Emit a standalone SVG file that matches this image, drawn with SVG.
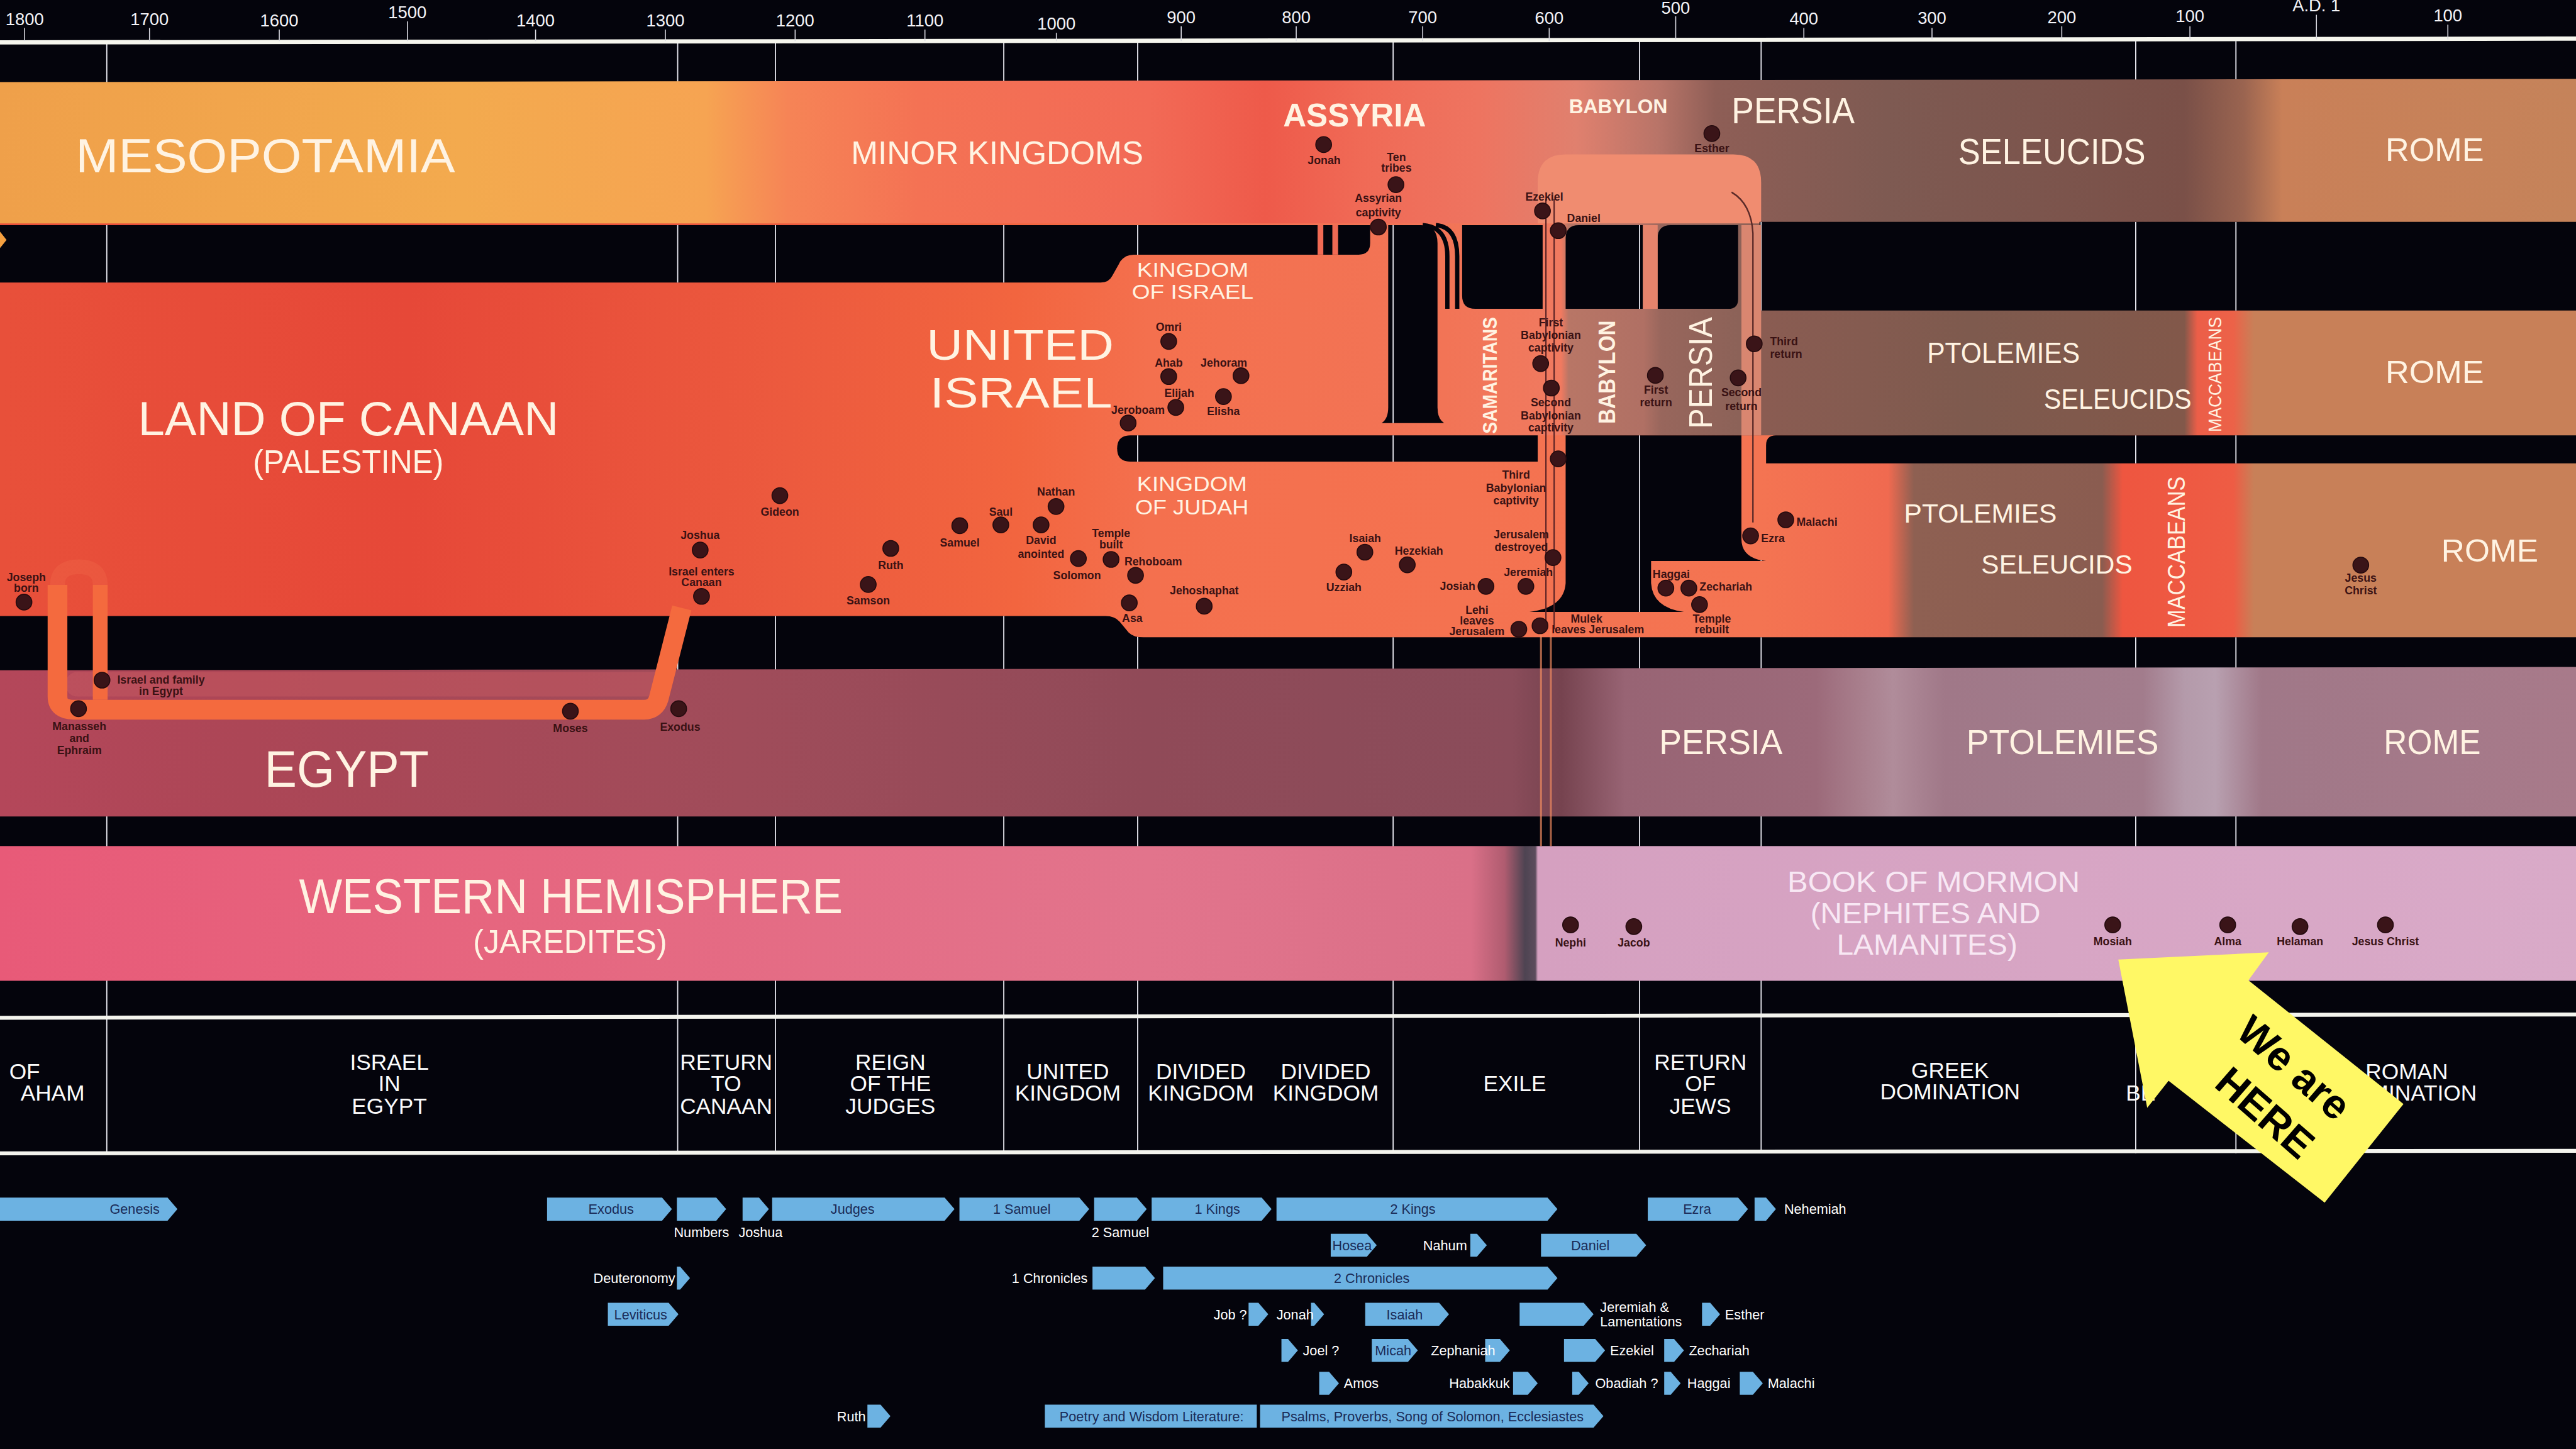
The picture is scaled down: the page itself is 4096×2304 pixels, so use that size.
<svg xmlns="http://www.w3.org/2000/svg" width="4096" height="2304" viewBox="0 0 4096 2304">
<defs>
<style>
.yr{font-family:"Liberation Sans",Arial,sans-serif;font-size:10.5px;fill:#f4f4f8;text-anchor:middle}
.t{font-family:"Liberation Sans",Arial,sans-serif;fill:#fff3e2}
.l{font-family:"Liberation Sans",Arial,sans-serif;font-size:6.8px;font-weight:bold;fill:#3a1214;text-anchor:middle}
.ls{text-anchor:start}
.le{text-anchor:end}
.d{fill:#3a1418;stroke:#240a0e;stroke-width:0.6}
.g{stroke:#e6e6ee;stroke-width:0.7;fill:none}
.p{font-family:"Liberation Sans",Arial,sans-serif;font-size:13.5px;fill:#fbfbfb;text-anchor:middle}
.bk{fill:#6cb2e2}
.bt{font-family:"Liberation Sans",Arial,sans-serif;font-size:8.3px;fill:#1b2c58;text-anchor:middle}
.bw{font-family:"Liberation Sans",Arial,sans-serif;font-size:8.3px;fill:#ffffff}
</style>
<linearGradient id="g1" gradientUnits="userSpaceOnUse" x1="0" y1="0" x2="1568" y2="0">
<stop offset="0" stop-color="#efa04a"/><stop offset="0.179" stop-color="#f3aa4e"/><stop offset="0.274" stop-color="#f6a452"/><stop offset="0.306" stop-color="#f68456"/><stop offset="0.357" stop-color="#f47254"/><stop offset="0.446" stop-color="#f26a56"/><stop offset="0.491" stop-color="#ee5a4a"/><stop offset="0.529" stop-color="#f06a56"/><stop offset="0.574" stop-color="#ee7460"/><stop offset="0.612" stop-color="#e0806e"/><stop offset="0.644" stop-color="#b87468"/><stop offset="0.666" stop-color="#8e5e56"/><stop offset="0.733" stop-color="#7e5a52"/><stop offset="0.848" stop-color="#7a5048"/><stop offset="0.871" stop-color="#9a6450"/><stop offset="0.886" stop-color="#c98058"/><stop offset="1" stop-color="#c5835a"/>
</linearGradient>
<linearGradient id="g2" gradientUnits="userSpaceOnUse" x1="0" y1="0" x2="1568" y2="0">
<stop offset="0" stop-color="#e8503a"/><stop offset="0.159" stop-color="#e64838"/><stop offset="0.306" stop-color="#ec5a3e"/><stop offset="0.395" stop-color="#f2653f"/><stop offset="0.446" stop-color="#f4704e"/><stop offset="0.561" stop-color="#f27456"/><stop offset="0.606" stop-color="#f07a60"/><stop offset="0.609" stop-color="#b87666"/><stop offset="0.638" stop-color="#b07064"/><stop offset="0.645" stop-color="#98665c"/><stop offset="0.675" stop-color="#8c6258"/><stop offset="0.684" stop-color="#8a5c52"/><stop offset="0.765" stop-color="#7e5a4e"/><stop offset="0.848" stop-color="#82584a"/><stop offset="0.853" stop-color="#ec5e48"/><stop offset="0.867" stop-color="#ec6248"/><stop offset="0.875" stop-color="#c88058"/><stop offset="1" stop-color="#c88058"/>
</linearGradient>
<linearGradient id="g3" gradientUnits="userSpaceOnUse" x1="0" y1="0" x2="1568" y2="0">
<stop offset="0" stop-color="#e8503a"/><stop offset="0.159" stop-color="#e64838"/><stop offset="0.306" stop-color="#ec5a3e"/><stop offset="0.395" stop-color="#f2653f"/><stop offset="0.446" stop-color="#f4704e"/><stop offset="0.684" stop-color="#f47452"/><stop offset="0.733" stop-color="#f06a50"/><stop offset="0.743" stop-color="#8e6052"/><stop offset="0.816" stop-color="#8a5c50"/><stop offset="0.824" stop-color="#ee5640"/><stop offset="0.867" stop-color="#ee5c44"/><stop offset="0.875" stop-color="#c88058"/><stop offset="1" stop-color="#c88058"/>
</linearGradient>
<linearGradient id="g4" gradientUnits="userSpaceOnUse" x1="0" y1="0" x2="1568" y2="0">
<stop offset="0" stop-color="#b4475a"/><stop offset="0.096" stop-color="#ac4656"/><stop offset="0.287" stop-color="#a04c5a"/><stop offset="0.446" stop-color="#904a58"/><stop offset="0.587" stop-color="#8a4c5a"/><stop offset="0.606" stop-color="#76434f"/><stop offset="0.631" stop-color="#986474"/><stop offset="0.705" stop-color="#9c6a7a"/><stop offset="0.722" stop-color="#a87e8c"/><stop offset="0.735" stop-color="#b08c9a"/><stop offset="0.755" stop-color="#a07888"/><stop offset="0.832" stop-color="#a27c8c"/><stop offset="0.848" stop-color="#b49aaa"/><stop offset="0.86" stop-color="#b8a0b0"/><stop offset="0.878" stop-color="#a07888"/><stop offset="1" stop-color="#a87a8a"/>
</linearGradient>
<linearGradient id="g5" gradientUnits="userSpaceOnUse" x1="0" y1="0" x2="1568" y2="0">
<stop offset="0" stop-color="#e85a78"/><stop offset="0.191" stop-color="#e6667f"/><stop offset="0.446" stop-color="#e2748c"/><stop offset="0.571" stop-color="#da7088"/><stop offset="0.584" stop-color="#b05c70"/><stop offset="0.592" stop-color="#4e4452"/><stop offset="0.596" stop-color="#5c4c5c"/><stop offset="0.597" stop-color="#d5a0c0"/><stop offset="1" stop-color="#d9aac8"/>
</linearGradient>
<path id="b1" d="M0 137 L834 137 L834 148 Q834 155 827 155 L690 155 Q685 155 682 159 L677 168 Q675 172 670 172 L0 172 Z"/>
<path id="b2" d="M845 137 L865 137 Q875 137 875 148 L875 248 Q875 255 879 257.5 L841 257.5 Q845 255 845 248 Z"/>
<path id="b4" d="M890 137 L939 137 L939 188 L898 188 Q890 188 890 180 Z"/>
<path id="b5" d="M953 145 Q953 137 961 137 L1000 137 L1000 188 L953 188 Z"/>
<path id="b6" d="M1009 145 Q1009 137 1017 137 L1058 137 L1058 182 Q1058 188 1052 188 L1009 188 Z"/>
<path id="b7" d="M1071 135 L1568 135 L1568 189 L1071 189 Z"/>
<path id="b8" d="M688 265 L936 265 L936 281 L688 281 Q680 281 680 273 Q680 265 688 265 Z"/>
<path id="b9" d="M953 265 L1060 265 L1060 328 Q1060 340 1075 341.5 L1005 341.5 L1005 355 Q1006 370 1025 372.5 L931 372.5 Q952 370 953 355 Z"/>
<path id="b10" d="M1081 265 L1568 265 L1568 282 L1075 282 L1075 271 Q1075 265 1081 265 Z"/>
<path id="b11" d="M0 375 L673 375 Q679 375 682 379 L687 385 Q690 388 696 388 L1568 388 L1568 408 L0 408 Z"/>
<clipPath id="blkclip">
<use href="#b1"/><use href="#b2"/><use href="#b4"/><use href="#b5"/><use href="#b6"/><use href="#b7"/><use href="#b8"/><use href="#b9"/><use href="#b10"/><use href="#b11"/>
</clipPath>
</defs>
<rect x="0" y="0" width="4096" height="2304" fill="#04040c"/>
<g transform="scale(2.612245)">
<g id="gridlines">
<path class="g" d="M65 25V702 M412.5 25V702 M472 25V702 M611 25V702 M692.5 25V702 M848 25V702 M998 25V702 M1072 25V702 M1300 25V702 M1361 25V702"/>
</g>
<g id="axis">
<line x1="0" y1="25.8" x2="1568" y2="23.5" stroke="#f6f6ee" stroke-width="2.6"/>
<path stroke="#dcdce4" stroke-width="0.6" d="M15 17V25 M91 17V25 M170 18V25 M248 13V25 M326 18V25 M405 18V25 M484 18V25 M563 18V25 M643 20V25 M719 16V25 M789 16V25 M866 16V25 M943 17V25 M1020 10V24 M1098 17V24 M1176 17V24 M1255 16V24 M1333 16V24 M1410 9V24 M1490 15V24"/>
<text class="yr" x="15" y="15.5">1800</text>
<text class="yr" x="91" y="15.5">1700</text>
<text class="yr" x="170" y="16">1600</text>
<text class="yr" x="248" y="11">1500</text>
<text class="yr" x="326" y="16">1400</text>
<text class="yr" x="405" y="16">1300</text>
<text class="yr" x="484" y="16">1200</text>
<text class="yr" x="563" y="16">1100</text>
<text class="yr" x="643" y="18">1000</text>
<text class="yr" x="719" y="14">900</text>
<text class="yr" x="789" y="14">800</text>
<text class="yr" x="866" y="14">700</text>
<text class="yr" x="943" y="14.5">600</text>
<text class="yr" x="1020" y="8.5">500</text>
<text class="yr" x="1098" y="15">400</text>
<text class="yr" x="1176" y="14.5">300</text>
<text class="yr" x="1255" y="14">200</text>
<text class="yr" x="1333" y="13.5">100</text>
<text class="yr" x="1410" y="7">A.D. 1</text>
<text class="yr" x="1490" y="13">100</text>
</g>
<g id="bands">
<polygon points="0,50 1568,48 1568,136 0,137" fill="url(#g1)"/>
<path d="M936 138 L936 111 Q936 94 953 94 L1055 94 Q1072 94 1072 111 L1072 138 Z" fill="#f08c70"/>
<rect x="0" y="136" width="1568" height="129.5" fill="url(#g2)"/>
<rect x="0" y="265" width="1568" height="123" fill="url(#g3)"/>
<g fill="#04040c">
<use href="#b1"/><use href="#b2"/><use href="#b4"/><use href="#b5"/><use href="#b6"/><use href="#b7"/><use href="#b8"/><use href="#b9"/><use href="#b10"/><use href="#b11"/>
</g>
<path class="g" clip-path="url(#blkclip)" d="M65 25V702 M412.5 25V702 M472 25V702 M611 25V702 M692.5 25V702 M848 25V702 M998 25V702 M1072 25V702 M1300 25V702 M1361 25V702"/>
<rect x="802" y="137" width="3.5" height="18" fill="#f06a54"/>
<rect x="811" y="137" width="3.5" height="18" fill="#f06a54"/>
<rect x="1000" y="137" width="9" height="51" fill="#e6846c"/>
<rect x="1060" y="137" width="12" height="128" fill="#d98670"/>
<path d="M866 137 Q881 138 881 156 L881 188 M874 137 Q887 138 887 156 L887 188" fill="none" stroke="#04040c" stroke-width="2.6"/>
<path d="M941 121 V383 M946 121 V383" fill="none" stroke="#5a2224" stroke-width="0.8"/>
<path d="M1054 117 Q1066 124 1067 142 L1067 318" fill="none" stroke="#5a2a28" stroke-width="0.9"/>
<polygon points="0,141 4,146 0,151" fill="#f5a040"/>
<polygon points="0,408 1568,406 1568,497 0,497" fill="url(#g4)"/>
<rect x="0" y="515" width="1568" height="82" fill="url(#g5)"/>
<path d="M938 383 V515 M944 383 V515" fill="none" stroke="#f08a60" stroke-width="1.2" opacity="0.7"/>
<rect x="40" y="409" width="365" height="15" rx="7" fill="#c85a62" opacity="0.45"/>
<path d="M35 356 Q35 345 48 345 Q61 345 61 356" fill="none" stroke="#f47a52" stroke-width="9" opacity="0.22"/>
<path d="M35 356 L35 424 Q35 432 45 432 L392 432 Q399 432 401 425 L415 370" fill="none" stroke="#f46a3e" stroke-width="12" stroke-linejoin="round"/>
<path d="M61 356 L61 426" fill="none" stroke="#f46a3e" stroke-width="9"/>
</g>
<g id="titles" class="t">
<text x="46" y="105" font-size="29" textLength="231" lengthAdjust="spacingAndGlyphs">MESOPOTAMIA</text>
<text x="518" y="100" font-size="20" textLength="178" lengthAdjust="spacingAndGlyphs">MINOR KINGDOMS</text>
<text x="781" y="77" font-size="20" font-weight="bold" textLength="87" lengthAdjust="spacingAndGlyphs">ASSYRIA</text>
<text x="955" y="69" font-size="12" font-weight="bold" textLength="60" lengthAdjust="spacingAndGlyphs">BABYLON</text>
<text x="1054" y="75" font-size="22" textLength="75" lengthAdjust="spacingAndGlyphs">PERSIA</text>
<text x="1192" y="100" font-size="22" textLength="114" lengthAdjust="spacingAndGlyphs">SELEUCIDS</text>
<text x="1452" y="98" font-size="20" textLength="60" lengthAdjust="spacingAndGlyphs">ROME</text>
<text x="692" y="168.5" font-size="12" textLength="68" lengthAdjust="spacingAndGlyphs">KINGDOM</text>
<text x="689" y="182" font-size="12" textLength="74" lengthAdjust="spacingAndGlyphs">OF ISRAEL</text>
<text x="564" y="219" font-size="26" textLength="114" lengthAdjust="spacingAndGlyphs">UNITED</text>
<text x="566" y="248" font-size="26" textLength="111" lengthAdjust="spacingAndGlyphs">ISRAEL</text>
<text x="84" y="265" font-size="29" textLength="256" lengthAdjust="spacingAndGlyphs">LAND OF CANAAN</text>
<text x="154" y="288" font-size="20" textLength="116" lengthAdjust="spacingAndGlyphs">(PALESTINE)</text>
<text x="692" y="299" font-size="13" textLength="67" lengthAdjust="spacingAndGlyphs">KINGDOM</text>
<text x="691" y="313" font-size="13" textLength="69" lengthAdjust="spacingAndGlyphs">OF JUDAH</text>
<text transform="translate(911,264) rotate(-90)" font-size="12" font-weight="bold" textLength="71" lengthAdjust="spacingAndGlyphs">SAMARITANS</text>
<text transform="translate(983,258) rotate(-90)" font-size="14" font-weight="bold" textLength="63" lengthAdjust="spacingAndGlyphs">BABYLON</text>
<text transform="translate(1042,261) rotate(-90)" font-size="20" textLength="68" lengthAdjust="spacingAndGlyphs">PERSIA</text>
<text x="1173" y="221" font-size="18" textLength="93" lengthAdjust="spacingAndGlyphs">PTOLEMIES</text>
<text x="1244" y="249" font-size="17" textLength="90" lengthAdjust="spacingAndGlyphs">SELEUCIDS</text>
<text x="1452" y="233" font-size="19" textLength="60" lengthAdjust="spacingAndGlyphs">ROME</text>
<text transform="translate(1352,263) rotate(-90)" font-size="11" textLength="70" lengthAdjust="spacingAndGlyphs">MACCABEANS</text>
<text x="1159" y="318" font-size="16" textLength="93" lengthAdjust="spacingAndGlyphs">PTOLEMIES</text>
<text x="1206" y="349" font-size="16" textLength="92" lengthAdjust="spacingAndGlyphs">SELEUCIDS</text>
<text transform="translate(1330,382) rotate(-90)" font-size="15" textLength="92" lengthAdjust="spacingAndGlyphs">MACCABEANS</text>
<text x="1486" y="342" font-size="19" textLength="59" lengthAdjust="spacingAndGlyphs">ROME</text>
<text x="161" y="479" font-size="31" textLength="100" lengthAdjust="spacingAndGlyphs">EGYPT</text>
<text x="1010" y="459" font-size="21" textLength="75" lengthAdjust="spacingAndGlyphs">PERSIA</text>
<text x="1197" y="459" font-size="21" textLength="117" lengthAdjust="spacingAndGlyphs">PTOLEMIES</text>
<text x="1451" y="459" font-size="21" textLength="59" lengthAdjust="spacingAndGlyphs">ROME</text>
<text x="182" y="556" font-size="30" textLength="331" lengthAdjust="spacingAndGlyphs">WESTERN HEMISPHERE</text>
<text x="288" y="580" font-size="20" textLength="118" lengthAdjust="spacingAndGlyphs">(JAREDITES)</text>
<text x="1088" y="543" font-size="18" fill="#f8e8f4" textLength="178" lengthAdjust="spacingAndGlyphs">BOOK OF MORMON</text>
<text x="1102" y="562" font-size="18" fill="#f8e8f4" textLength="140" lengthAdjust="spacingAndGlyphs">(NEPHITES AND</text>
<text x="1118" y="581" font-size="18" fill="#f8e8f4" textLength="110" lengthAdjust="spacingAndGlyphs">LAMANITES)</text>
</g>
<g id="events">
<g id="ev-jonah"><circle class="d" cx="805.7" cy="88" r="4.8"/><text class="l" x="806" y="100">Jonah</text></g>
<g id="ev-ten-tribes"><circle class="d" cx="849.7" cy="112.4" r="4.8"/><text class="l" x="850" y="98">Ten</text><text class="l" x="850" y="104.5">tribes</text></g>
<g id="ev-assyrian"><circle class="d" cx="839" cy="138.2" r="4.8"/><text class="l" x="839" y="123">Assyrian</text><text class="l" x="839" y="131.5">captivity</text></g>
<g id="ev-esther"><circle class="d" cx="1042" cy="81.3" r="4.8"/><text class="l" x="1042" y="92.5">Esther</text></g>
<g id="ev-ezekiel"><circle class="d" cx="938.9" cy="128.4" r="4.8"/><text class="l" x="940" y="122">Ezekiel</text></g>
<g id="ev-daniel"><circle class="d" cx="948.5" cy="140.4" r="4.8"/><text class="l" x="964" y="135">Daniel</text></g>
<g id="ev-omri"><circle class="d" cx="711.4" cy="207.8" r="4.8"/><text class="l" x="711.4" y="201.5">Omri</text></g>
<g id="ev-ahab"><circle class="d" cx="711.4" cy="229.2" r="4.8"/><text class="l" x="711.4" y="223">Ahab</text></g>
<g id="ev-jehoram"><circle class="d" cx="755.4" cy="228.7" r="4.8"/><text class="l" x="745" y="223">Jehoram</text></g>
<g id="ev-elijah"><circle class="d" cx="715.7" cy="248" r="4.8"/><text class="l" x="717.8" y="241.5">Elijah</text></g>
<g id="ev-elisha"><circle class="d" cx="744.7" cy="241.4" r="4.8"/><text class="l" x="744.7" y="252.5">Elisha</text></g>
<g id="ev-jeroboam"><circle class="d" cx="686.7" cy="257.5" r="4.8"/><text class="l" x="692.7" y="252">Jeroboam</text></g>
<g id="ev-first-bab"><circle class="d" cx="937.8" cy="221.3" r="4.8"/><text class="l" x="944" y="198.7">First</text><text class="l" x="944" y="206.3">Babylonian</text><text class="l" x="944" y="214">captivity</text></g>
<g id="ev-second-bab"><circle class="d" cx="944.3" cy="236.2" r="4.8"/><text class="l" x="944" y="247.4">Second</text><text class="l" x="944" y="255.5">Babylonian</text><text class="l" x="944" y="262.7">captivity</text></g>
<g id="ev-first-return"><circle class="d" cx="1007.6" cy="228.5" r="4.8"/><text class="l" x="1008" y="239.5">First</text><text class="l" x="1008" y="247.4">return</text></g>
<g id="ev-second-return"><circle class="d" cx="1058" cy="230" r="4.8"/><text class="l" x="1060" y="241.3">Second</text><text class="l" x="1060" y="249.6">return</text></g>
<g id="ev-third-return"><circle class="d" cx="1067.8" cy="209.3" r="4.8"/><text class="l ls" x="1077.4" y="210.3">Third</text><text class="l ls" x="1077.4" y="217.9">return</text></g>
<g id="ev-third-bab"><circle class="d" cx="948.5" cy="279.3" r="4.8"/><text class="l" x="922.8" y="291.5">Third</text><text class="l" x="922.8" y="299.3">Babylonian</text><text class="l" x="922.8" y="307">captivity</text></g>
<g id="ev-isaiah"><circle class="d" cx="830.8" cy="336.1" r="4.8"/><text class="l" x="831" y="330">Isaiah</text></g>
<g id="ev-hezekiah"><circle class="d" cx="856.6" cy="343.8" r="4.8"/><text class="l" x="863.7" y="337.5">Hezekiah</text></g>
<g id="ev-uzziah"><circle class="d" cx="818" cy="348.2" r="4.8"/><text class="l" x="818" y="359.8">Uzziah</text></g>
<g id="ev-josiah"><circle class="d" cx="904.5" cy="356.9" r="4.8"/><text class="l le" x="898" y="359">Josiah</text></g>
<g id="ev-jeremiah"><circle class="d" cx="928.8" cy="356.9" r="4.8"/><text class="l" x="930.3" y="350.7">Jeremiah</text></g>
<g id="ev-jer-destroyed"><circle class="d" cx="945.3" cy="339.4" r="4.8"/><text class="l" x="926" y="327.7">Jerusalem</text><text class="l" x="926" y="335.4">destroyed</text></g>
<g id="ev-lehi"><circle class="d" cx="924.5" cy="383" r="4.8"/><text class="l" x="899" y="373.6">Lehi</text><text class="l" x="899" y="380.2">leaves</text><text class="l" x="899" y="386.7">Jerusalem</text></g>
<g id="ev-mulek"><circle class="d" cx="937.4" cy="380.9" r="4.8"/><text class="l" x="965.7" y="379">Mulek</text><text class="l" x="972.6" y="385.5">leaves Jerusalem</text></g>
<g id="ev-haggai"><circle class="d" cx="1014" cy="358" r="4.8"/><text class="l" x="1017.3" y="351.8">Haggai</text></g>
<g id="ev-zechariah"><circle class="d" cx="1028" cy="358" r="4.8"/><text class="l ls" x="1034.5" y="359.4">Zechariah</text></g>
<g id="ev-temple-rebuilt"><circle class="d" cx="1034.5" cy="368" r="4.8"/><text class="l" x="1042" y="379.1">Temple</text><text class="l" x="1042" y="385.6">rebuilt</text></g>
<g id="ev-ezra"><circle class="d" cx="1065.6" cy="326.2" r="4.8"/><text class="l ls" x="1072" y="329.9">Ezra</text></g>
<g id="ev-malachi"><circle class="d" cx="1087" cy="316.4" r="4.8"/><text class="l ls" x="1093.5" y="320">Malachi</text></g>
<g id="ev-gideon"><circle class="d" cx="474.7" cy="301.7" r="4.8"/><text class="l" x="474.7" y="314">Gideon</text></g>
<g id="ev-joshua"><circle class="d" cx="426.2" cy="334.8" r="4.8"/><text class="l" x="426.2" y="328.2">Joshua</text></g>
<g id="ev-enters-canaan"><circle class="d" cx="427" cy="363" r="4.8"/><text class="l" x="427" y="350.1">Israel enters</text><text class="l" x="427" y="356.8">Canaan</text></g>
<g id="ev-ruth"><circle class="d" cx="542.2" cy="333.8" r="4.8"/><text class="l" x="542.2" y="346.5">Ruth</text></g>
<g id="ev-samson"><circle class="d" cx="528.5" cy="355.8" r="4.8"/><text class="l" x="528.5" y="368">Samson</text></g>
<g id="ev-samuel"><circle class="d" cx="584.2" cy="320" r="4.8"/><text class="l" x="584.2" y="332.5">Samuel</text></g>
<g id="ev-saul"><circle class="d" cx="609.2" cy="319.5" r="4.8"/><text class="l" x="609.2" y="313.9">Saul</text></g>
<g id="ev-nathan"><circle class="d" cx="642.8" cy="308.3" r="4.8"/><text class="l" x="642.8" y="301.6">Nathan</text></g>
<g id="ev-david"><circle class="d" cx="633.7" cy="319.5" r="4.8"/><text class="l" x="633.7" y="331.2">David</text><text class="l" x="633.7" y="339.4">anointed</text></g>
<g id="ev-solomon"><circle class="d" cx="656.4" cy="340" r="4.8"/><text class="l" x="655.6" y="352.7">Solomon</text></g>
<g id="ev-temple-built"><circle class="d" cx="676.3" cy="340.5" r="4.8"/><text class="l" x="676.3" y="327.1">Temple</text><text class="l" x="676.3" y="333.8">built</text></g>
<g id="ev-rehoboam"><circle class="d" cx="691.2" cy="350.2" r="4.8"/><text class="l" x="702" y="344">Rehoboam</text></g>
<g id="ev-asa"><circle class="d" cx="687.4" cy="367" r="4.8"/><text class="l" x="689.2" y="378.7">Asa</text></g>
<g id="ev-jehoshaphat"><circle class="d" cx="733" cy="369" r="4.8"/><text class="l" x="733" y="361.8">Jehoshaphat</text></g>
<g id="ev-joseph"><circle class="d" cx="14.6" cy="366.5" r="4.8"/><text class="l" x="16" y="353.7">Joseph</text><text class="l" x="16" y="360.3">born</text></g>
<g id="ev-family-egypt"><circle class="d" cx="62.1" cy="414" r="4.8"/><text class="l" x="98" y="416">Israel and family</text><text class="l" x="98" y="423">in Egypt</text></g>
<g id="ev-manasseh"><circle class="d" cx="47.8" cy="431.4" r="4.8"/><text class="l" x="48.3" y="444.5">Manasseh</text><text class="l" x="48.3" y="451.7">and</text><text class="l" x="48.3" y="458.9">Ephraim</text></g>
<g id="ev-moses"><circle class="d" cx="347.2" cy="432.9" r="4.8"/><text class="l" x="347.2" y="445.6">Moses</text></g>
<g id="ev-exodus"><circle class="d" cx="413.1" cy="431.4" r="4.8"/><text class="l" x="414" y="445">Exodus</text></g>
<g id="ev-jesus-rome"><circle class="d" cx="1437" cy="344" r="4.8"/><text class="l" x="1437" y="354">Jesus</text><text class="l" x="1437" y="361.7">Christ</text></g>
<g id="ev-nephi"><circle class="d" cx="956" cy="563" r="4.8"/><text class="l" x="956" y="576">Nephi</text></g>
<g id="ev-jacob"><circle class="d" cx="994.5" cy="564" r="4.8"/><text class="l" x="994.5" y="576">Jacob</text></g>
<g id="ev-mosiah"><circle class="d" cx="1286" cy="563" r="4.8"/><text class="l" x="1286" y="575.5">Mosiah</text></g>
<g id="ev-alma"><circle class="d" cx="1356" cy="563" r="4.8"/><text class="l" x="1356" y="575.5">Alma</text></g>
<g id="ev-helaman"><circle class="d" cx="1400" cy="564" r="4.8"/><text class="l" x="1400" y="575.5">Helaman</text></g>
<g id="ev-jesus-bom"><circle class="d" cx="1452" cy="563" r="4.8"/><text class="l" x="1452" y="575.5">Jesus Christ</text></g>
</g>
<g id="periods">
<line x1="0" y1="619.5" x2="1568" y2="617.5" stroke="#f4f4ee" stroke-width="2.4"/>
<line x1="0" y1="702" x2="1568" y2="700.5" stroke="#f4f4ee" stroke-width="2.4"/>
<text class="p" x="15" y="657">OF</text>
<text class="p le" x="32" y="670">AHAM</text>
<text class="p" x="237" y="651"><tspan x="237">ISRAEL</tspan><tspan x="237" y="664.3">IN</tspan><tspan x="237" y="678">EGYPT</tspan></text>
<text class="p" x="442" y="651"><tspan x="442">RETURN</tspan><tspan x="442" y="664.3">TO</tspan><tspan x="442" y="678">CANAAN</tspan></text>
<text class="p" x="542" y="651"><tspan x="542">REIGN</tspan><tspan x="542" y="664.3">OF THE</tspan><tspan x="542" y="678">JUDGES</tspan></text>
<text class="p" x="650" y="657"><tspan x="650">UNITED</tspan><tspan x="650" y="670">KINGDOM</tspan></text>
<text class="p" x="731" y="657"><tspan x="731">DIVIDED</tspan><tspan x="731" y="670">KINGDOM</tspan></text>
<text class="p" x="807" y="657"><tspan x="807">DIVIDED</tspan><tspan x="807" y="670">KINGDOM</tspan></text>
<text class="p" x="922" y="664">EXILE</text>
<text class="p" x="1035" y="651"><tspan x="1035">RETURN</tspan><tspan x="1035" y="664.3">OF</tspan><tspan x="1035" y="678">JEWS</tspan></text>
<text class="p" x="1187" y="656"><tspan x="1187">GREEK</tspan><tspan x="1187" y="669">DOMINATION</tspan></text>
<text class="p ls" x="1303" y="670">BE</text>
<text class="p" x="1465" y="657"><tspan x="1465">ROMAN</tspan><tspan x="1465" y="670">DOMINATION</tspan></text>
</g>
<g id="books">
<g class="bk">
<polygon points="0,729 102,729 108,736 102,743 0,743"/>
<polygon points="333,729 403,729 409,736 403,743 333,743"/>
<polygon points="412,729 436,729 442,736 436,743 412,743"/>
<polygon points="452,729 462,729 468,736 462,743 452,743"/>
<polygon points="470,729 575,729 581,736 575,743 470,743"/>
<polygon points="584,729 657,729 663,736 657,743 584,743"/>
<polygon points="666,729 692,729 698,736 692,743 666,743"/>
<polygon points="701,729 768,729 774,736 768,743 701,743"/>
<polygon points="777,729 942,729 948,736 942,743 777,743"/>
<polygon points="1003,729 1058,729 1064,736 1058,743 1003,743"/>
<polygon points="1068,729 1075,729 1081,736 1075,743 1068,743"/>
<polygon points="810,751 832,751 838,758 832,765 810,765"/>
<polygon points="895,751 899,751 905,758 899,765 895,765"/>
<polygon points="938,751 996,751 1002,758 996,765 938,765"/>
<polygon points="412,771 414,771 420,778 414,785 412,785"/>
<polygon points="665,771 697,771 703,778 697,785 665,785"/>
<polygon points="708,771 942,771 948,778 942,785 708,785"/>
<polygon points="370,793 407,793 413,800 407,807 370,807"/>
<polygon points="760,793 766,793 772,800 766,807 760,807"/>
<polygon points="798,793 800,793 806,800 800,807 798,807"/>
<polygon points="831,793 876,793 882,800 876,807 831,807"/>
<polygon points="925,793 964,793 970,800 964,807 925,807"/>
<polygon points="1036,793 1041,793 1047,800 1041,807 1036,807"/>
<polygon points="780,815 784,815 790,822 784,829 780,829"/>
<polygon points="835,815 857,815 863,822 857,829 835,829"/>
<polygon points="904,815 913,815 919,822 913,829 904,829"/>
<polygon points="952,815 971,815 977,822 971,829 952,829"/>
<polygon points="1013,815 1019,815 1025,822 1019,829 1013,829"/>
<polygon points="803,835 809,835 815,842 809,849 803,849"/>
<polygon points="921,835 930,835 936,842 930,849 921,849"/>
<polygon points="957,835 961,835 967,842 961,849 957,849"/>
<polygon points="1013,835 1017,835 1023,842 1017,849 1013,849"/>
<polygon points="1059,835 1067,835 1073,842 1067,849 1059,849"/>
<polygon points="528,855 536,855 542,862 536,869 528,869"/>
<rect x="636" y="855" width="129" height="14"/>
<polygon points="767,855 970,855 976,862 970,869 767,869"/>
</g>
<text class="bt" x="82" y="739">Genesis</text>
<text class="bt" x="372" y="739">Exodus</text>
<text class="bt" x="519" y="739">Judges</text>
<text class="bt" x="622" y="739">1 Samuel</text>
<text class="bt" x="741" y="739">1 Kings</text>
<text class="bt" x="860" y="739">2 Kings</text>
<text class="bt" x="1033" y="739">Ezra</text>
<text class="bt" x="823" y="761">Hosea</text>
<text class="bt" x="968" y="761">Daniel</text>
<text class="bt" x="835" y="781">2 Chronicles</text>
<text class="bt" x="390" y="803">Leviticus</text>
<text class="bt" x="855" y="803">Isaiah</text>
<text class="bt" x="848" y="825">Micah</text>
<text class="bt" x="701" y="865">Poetry and Wisdom Literature:</text>
<text class="bt" x="872" y="865">Psalms, Proverbs, Song of Solomon, Ecclesiastes</text>
<text class="bw" x="427" y="753" text-anchor="middle">Numbers</text>
<text class="bw" x="463" y="753" text-anchor="middle">Joshua</text>
<text class="bw" x="682" y="753" text-anchor="middle">2 Samuel</text>
<text class="bw" x="1086" y="739">Nehemiah</text>
<text class="bw le" x="893" y="761">Nahum</text>
<text class="bw le" x="411" y="781">Deuteronomy</text>
<text class="bw le" x="662" y="781">1 Chronicles</text>
<text class="bw le" x="759" y="803">Job ?</text>
<text class="bw" x="777" y="803">Jonah</text>
<text class="bw" x="974" y="798.5">Jeremiah &amp;</text>
<text class="bw" x="974" y="807.5">Lamentations</text>
<text class="bw" x="1050" y="803">Esther</text>
<text class="bw" x="793" y="825">Joel ?</text>
<text class="bw" x="871" y="825">Zephaniah</text>
<text class="bw" x="980" y="825">Ezekiel</text>
<text class="bw" x="1028" y="825">Zechariah</text>
<text class="bw" x="818" y="845">Amos</text>
<text class="bw le" x="919" y="845">Habakkuk</text>
<text class="bw" x="971" y="845">Obadiah ?</text>
<text class="bw" x="1027" y="845">Haggai</text>
<text class="bw" x="1076" y="845">Malachi</text>
<text class="bw le" x="527" y="865">Ruth</text>
</g>
<g id="we-are-here">
<polygon points="1289.4,584.1 1381,579.7 1368.6,596.7 1463,672 1415,732 1320,657.9 1307,674.3" fill="#fff865"/>
<text transform="translate(1396.7,649.7) rotate(41)" x="0" y="9" font-family="Liberation Sans, Arial, sans-serif" font-weight="bold" font-size="25" text-anchor="middle" fill="#000">We are</text>
<text transform="translate(1379,677) rotate(41)" x="0" y="9" font-family="Liberation Sans, Arial, sans-serif" font-weight="bold" font-size="25" text-anchor="middle" fill="#000">HERE</text>
</g>
</g>
</svg>
